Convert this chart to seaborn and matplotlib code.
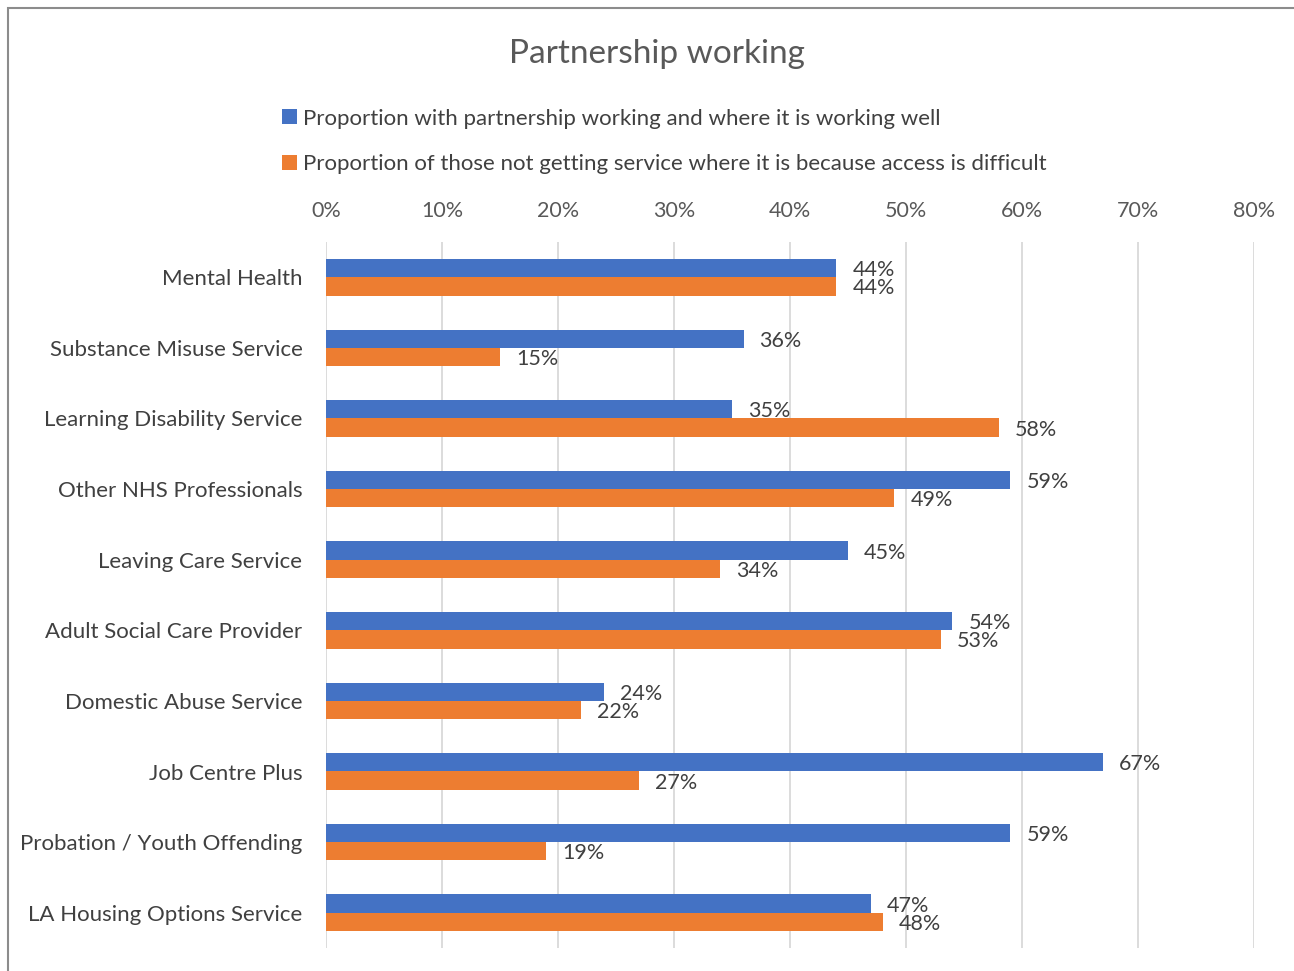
import matplotlib
matplotlib.use("Agg")
import matplotlib.pyplot as plt
from matplotlib.patches import Rectangle
import seaborn as sns
import pandas as pd

# Services surveyed, top to bottom
services = [
    "Mental Health",
    "Substance Misuse Service",
    "Learning Disability Service",
    "Other NHS Professionals",
    "Leaving Care Service",
    "Adult Social Care Provider",
    "Domestic Abuse Service",
    "Job Centre Plus",
    "Probation / Youth Offending",
    "LA Housing Options Service",
]
# Percentages per service
working_well = [44, 36, 35, 59, 45, 54, 24, 67, 59, 47]
access_difficult = [44, 15, 58, 49, 34, 53, 22, 27, 19, 48]

series_names = [
    "Proportion with partnership working and where it is working well",
    "Proportion of those not getting service where it is because access is difficult",
]
x_ticks = [0, 10, 20, 30, 40, 50, 60, 70, 80]
x_tick_labels = [f"{t}%" for t in x_ticks]
colors = ["#4472C4", "#ED7D31"]

sns.set_theme(style="white")
plt.rcParams["font.family"] = ["Lato", "DejaVu Sans"]

W, H = 1294, 971
fig = plt.figure(figsize=(W / 100, H / 100), dpi=100)
fig.patch.set_facecolor("white")

ax = fig.add_axes([326 / W, 1 - 948 / H, (1254 - 326) / W, (948 - 242) / H])

df = pd.DataFrame({
    "service": services * 2,
    "value": working_well + access_difficult,
    "series": [series_names[0]] * len(services) + [series_names[1]] * len(services),
})

sns.barplot(
    data=df, y="service", x="value", hue="series", orient="h",
    palette=colors, width=0.52, saturation=1, ax=ax,
    hue_order=series_names, order=services, linewidth=0,
)

ax.set_xlim(0, 80)
ax.set_xticks(x_ticks)
ax.set_xticklabels(x_tick_labels)
ax.xaxis.grid(True, color="#d9d9d9", linewidth=1.3)
ax.yaxis.grid(False)
ax.set_axisbelow(True)
for s in ax.spines.values():
    s.set_visible(False)
ax.set_xlabel("")
ax.set_ylabel("")

ax.tick_params(axis="x", top=True, bottom=False, labeltop=True, labelbottom=False,
               length=0, pad=15, labelsize=15.5, labelcolor="#595959")
ax.tick_params(axis="y", length=0, pad=17, labelsize=16, labelcolor="#404040")

# Value labels at the end of each bar
for container, vals in zip(ax.containers, [working_well, access_difficult]):
    texts = ax.bar_label(container, labels=[f"{v}%" for v in vals], padding=11.5,
                         fontsize=15.5, color="#404040")
    for t in texts:
        t.set_va("center_baseline")

fig.text(657 / W, 1 - 54 / H, "Partnership working", ha="center", va="center",
         fontsize=24, color="#595959")

handles, labels = ax.get_legend_handles_labels()
ax.legend(handles, labels, loc="center left",
          bbox_to_anchor=(271 / W, 1 - 141.5 / H), bbox_transform=fig.transFigure,
          frameon=False, handlelength=0.65, handleheight=0.65, handletextpad=0.3,
          labelspacing=1.15, fontsize=16, labelcolor="#404040", borderpad=0)

# Outer chart frame
fig.add_artist(Rectangle((8 / W, -0.05), 1.2, 1 - 8 / H + 0.05,
                         transform=fig.transFigure, fill=False,
                         edgecolor="#8c8c8c", linewidth=1.5))

fig.savefig("out.png", dpi=100)
